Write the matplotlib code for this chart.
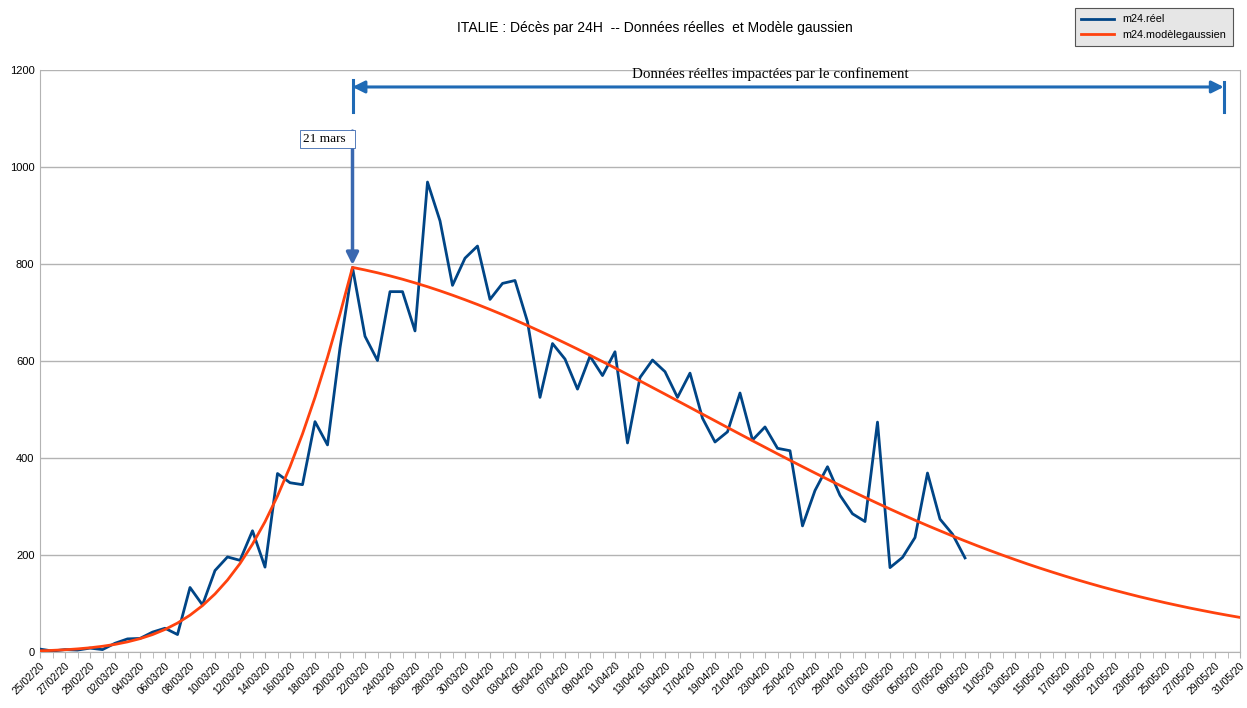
import matplotlib
matplotlib.use("Agg")
import matplotlib.pyplot as plt
import pandas as pd

plt.rcParams['font.family'] = ['Liberation Sans', 'DejaVu Sans']

# axe des dates : 25/02/20 -> 31/05/20, un point par jour
dates = pd.date_range('2020-02-25', '2020-05-31', freq='D')
date_labels = [d.strftime('%d/%m/%y') for d in dates]

# deces par 24h (donnees reelles), 25/02 -> 09/05
m24_reel = [6, 2, 5, 4, 8, 5, 18, 27, 28, 41, 49, 36, 133, 97, 168, 196, 189, 250,
            175, 368, 349, 345, 475, 427, 627, 793, 651, 601, 743, 743, 662, 969,
            889, 756, 812, 837, 727, 760, 766, 681, 525, 636, 604, 542, 610, 570,
            619, 431, 566, 602, 578, 525, 575, 482, 433, 454, 534, 437, 464, 420,
            415, 260, 333, 382, 323, 285, 269, 474, 174, 195, 236, 369, 274, 243, 194]

# modele gaussien, 25/02 -> 31/05
m24_modele = [2.4, 3.4, 4.6, 6.4, 8.7, 11.8, 15.7, 20.9, 27.5, 35.9, 46.5, 59.7,
              75.9, 95.7, 119.7, 148.4, 182.4, 222.3, 268.5, 321.6, 382.0, 449.7,
              525.0, 607.6, 697.0, 793.0, 787.7, 781.9, 775.5, 768.6, 761.1, 753.2,
              744.7, 735.7, 726.3, 716.5, 706.2, 695.6, 684.5, 673.1, 661.4, 649.4,
              637.1, 624.6, 611.8, 598.8, 585.7, 572.3, 558.9, 545.3, 531.7, 517.9,
              504.2, 490.4, 476.7, 462.9, 449.2, 435.6, 422.1, 408.6, 395.3, 382.1,
              369.1, 356.2, 343.5, 331.0, 318.7, 306.6, 294.8, 283.2, 271.8, 260.7,
              249.9, 239.3, 229.0, 218.9, 209.2, 199.7, 190.5, 181.5, 172.9, 164.6,
              156.5, 148.7, 141.2, 133.9, 127.0, 120.3, 113.8, 107.7, 101.7, 96.1,
              90.6, 85.5, 80.5, 75.8, 71.3]

jour_confinement = 25  # 21/03
fin_fleche = 94.7

x_all = list(range(len(dates)))

fig = plt.figure(figsize=(12.47, 7.08), dpi=100)
ax = fig.add_axes([40/1247, 1-652/708, 1200/1247, 582/708])

ax.plot(x_all[:len(m24_reel)], m24_reel, color='#004586', lw=2.0, label='m24.réel', zorder=3)
ax.plot(x_all, m24_modele, color='#ff420e', lw=2.0, label='m24.modèlegaussien', zorder=3)

ax.set_xlim(0, len(dates) - 1)
ax.set_ylim(0, 1200)
ax.set_yticks(range(0, 1201, 200))
ax.set_xticks(x_all, minor=True)
ax.set_xticks(x_all[::2])
ax.set_xticklabels(date_labels[::2], rotation=45, ha='right', rotation_mode='anchor',
                   fontsize=7.5)
ax.tick_params(axis='x', which='both', length=4, color='#b3b3b3', pad=2)
ax.tick_params(axis='y', length=0, labelsize=8, pad=4)
ax.grid(axis='y', color='#b3b3b3', lw=1)
ax.set_axisbelow(True)
for s in ['left', 'bottom', 'right']:
    ax.spines[s].set_color('#b3b3b3')
ax.spines['top'].set_visible(False)

# fleche "21 mars"
ax.annotate('', xy=(jour_confinement, 798), xytext=(jour_confinement, 1074),
            arrowprops=dict(arrowstyle='-|>', color='#3a68b0', lw=2.5,
                            mutation_scale=18, shrinkA=0, shrinkB=0))
ax.text(jour_confinement - 3.95, 1058, '21 mars  ', fontsize=9.5, family='Liberation Serif',
        va='center', ha='left',
        bbox=dict(boxstyle='square,pad=0.2', fc='white', ec='#3a68b0', lw=0.6))

# double fleche confinement
ax.annotate('', xy=(jour_confinement, 1165), xytext=(fin_fleche, 1165),
            arrowprops=dict(arrowstyle='<|-|>', color='#1f6ab5', lw=2.2,
                            mutation_scale=18, shrinkA=0, shrinkB=0))
ax.plot([jour_confinement, jour_confinement], [1113, 1180], color='#1f6ab5', lw=2.2,
        clip_on=False)
ax.plot([fin_fleche, fin_fleche], [1113, 1175], color='#1f6ab5', lw=2.2, clip_on=False)
ax.text(58.4, 1191, 'Données réelles impactées par le confinement', fontsize=10.8,
        family='Liberation Serif', ha='center', va='center')

fig.text(655/1247, 1-28/708, 'ITALIE : Décès par 24H  -- Données réelles  et Modèle gaussien',
         ha='center', va='center', fontsize=10)

leg = ax.legend(loc='upper right', bbox_to_anchor=(1233/1247, 1-8/708),
                bbox_transform=fig.transFigure, fancybox=False, framealpha=1,
                facecolor='#e6e6e6', edgecolor='#555555', fontsize=7.8,
                handlelength=3.0, borderpad=0.6, labelspacing=0.5, borderaxespad=0)
leg.get_frame().set_linewidth(0.8)

fig.savefig('out.png', dpi=100)
